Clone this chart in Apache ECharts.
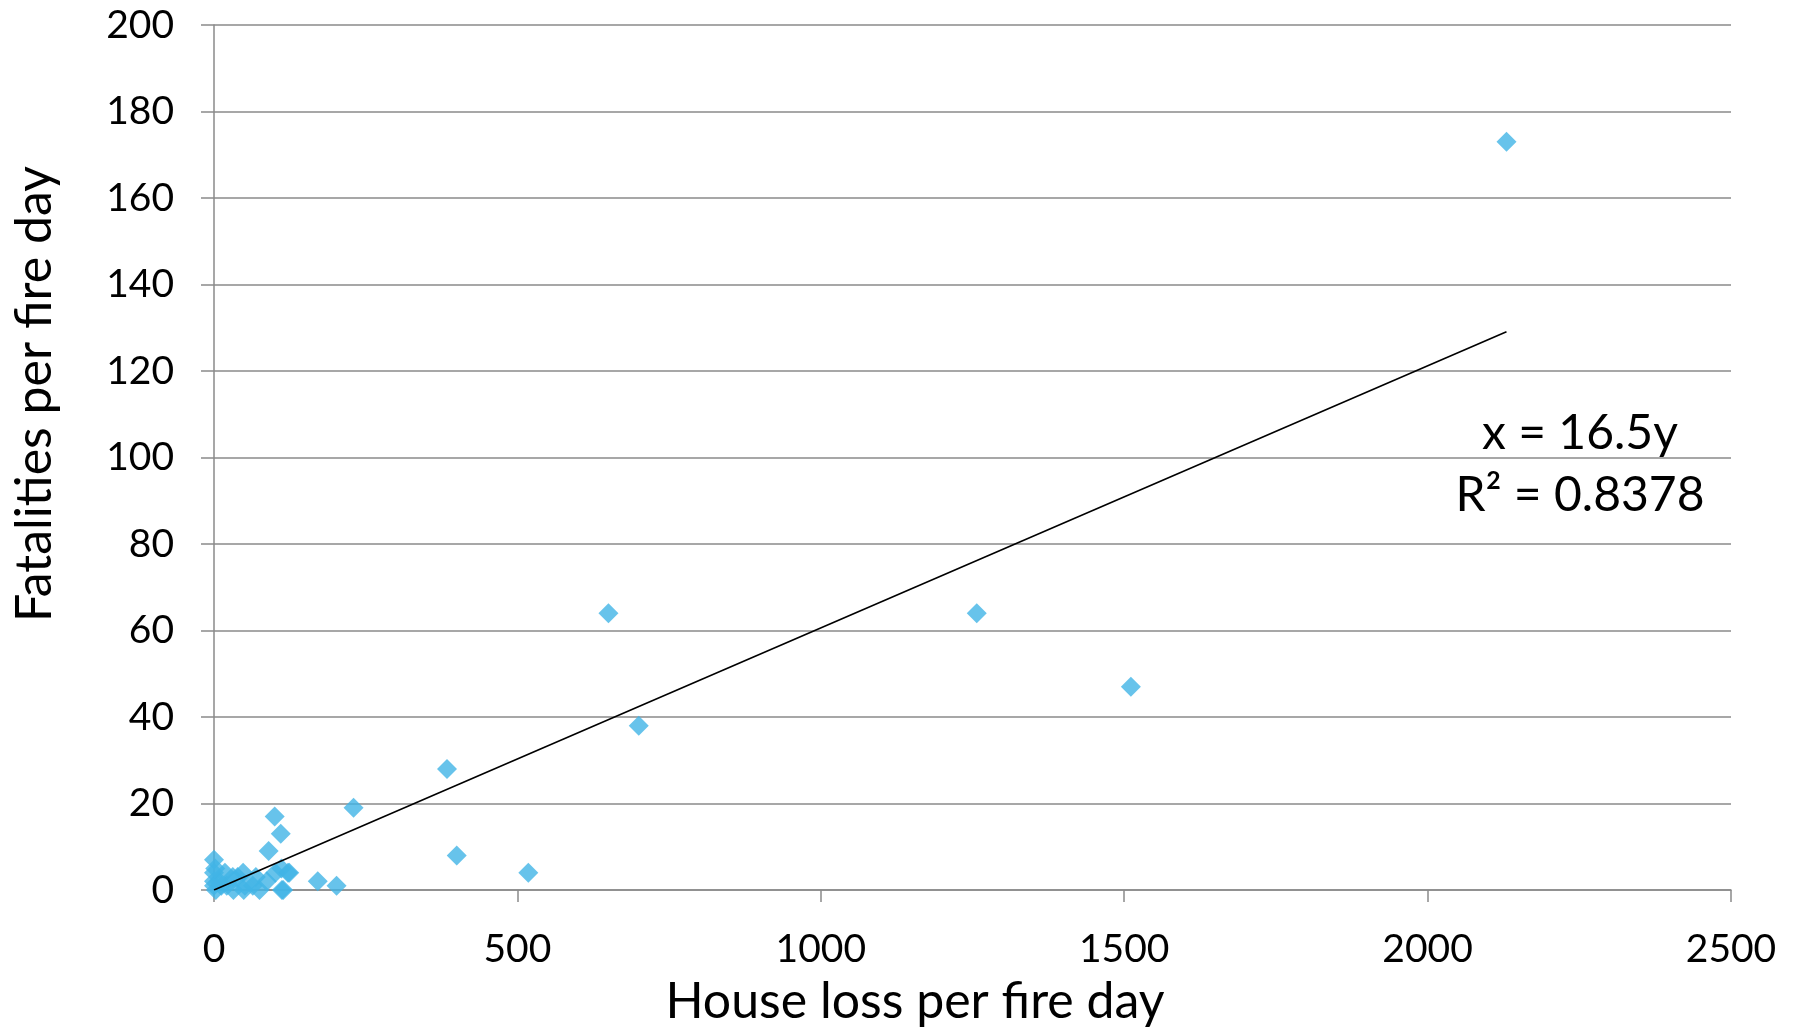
<!DOCTYPE html>
<html>
<head>
<meta charset="utf-8">
<script src="https://cdn.jsdelivr.net/npm/echarts@6/dist/echarts.min.js"></script>
<style>
html,body{margin:0;padding:0;background:#fff;}
#chart{width:1793px;height:1031px;}
</style>
</head>
<body>
<div id="chart"></div>
<script>
const houseLoss = [2130, 1257, 1511, 650, 700, 384, 400, 518, 230, 100, 110, 90, 171, 202, 0, 122, 111, 112, 75, 0, 0, 0, 18, 31, 48, 39, 69, 64, 87, 114, 32, 21, 51, 49, 101, 3, 8, 124, 2, 12];
const fatalities = [173, 64, 47, 64, 38, 28, 8, 4, 19, 17, 13, 9, 2, 1, 7, 4, 5, 0, 0, 4, 2, 1, 4, 3, 4, 3, 3, 1, 2, 0, 0, 1, 1, 0, 4, 0, 2, 4, 5, 1];
const trendSlope = 16.5;       // x = 16.5y
const trendEndX = 2130;
const xTicks = [0, 500, 1000, 1500, 2000, 2500];
const yTicks = [0, 20, 40, 60, 80, 100, 120, 140, 160, 180, 200];
const xTitle = 'House loss per fire day';
const yTitle = 'Fatalities per fire day';
const eqText = 'x = 16.5y';
const r2Text = 'R² = 0.8378';

const points = houseLoss.map((x, i) => [x, fatalities[i]]);
const trend = [[0, 0], [trendEndX, trendEndX / trendSlope]];
const FONT = 'Lato';

const chart = echarts.init(document.getElementById('chart'));
chart.setOption({
  animation: false,
  backgroundColor: '#ffffff',
  grid: { left: 214, right: 62, top: 25, bottom: 141, containLabel: false },
  xAxis: {
    type: 'value', min: xTicks[0], max: xTicks[xTicks.length - 1], interval: 500,
    axisLine: { show: true, onZero: false, lineStyle: { color: '#8a8a8a', width: 1.5 } },
    axisTick: { show: true, inside: false, length: 12, lineStyle: { color: '#8a8a8a', width: 1.5 } },
    axisLabel: { margin: 40, color: '#000', fontFamily: FONT, fontSize: 39, formatter: v => String(v) },
    splitLine: { show: false }
  },
  yAxis: {
    type: 'value', min: yTicks[0], max: yTicks[yTicks.length - 1], interval: 20,
    axisLine: { show: true, lineStyle: { color: '#8a8a8a', width: 1.5 } },
    axisTick: { show: true, inside: false, length: 13, lineStyle: { color: '#8a8a8a', width: 1.5 } },
    axisLabel: { margin: 40, color: '#000', fontFamily: FONT, fontSize: 39, formatter: v => String(v) },
    splitLine: { show: true, lineStyle: { color: '#8a8a8a', width: 1.5 } }
  },
  series: [
    {
      type: 'line', data: trend, symbol: 'none', silent: true,
      lineStyle: { color: '#000', width: 1.6 }, z: 3
    },
    {
      type: 'scatter', data: points, symbol: 'diamond', symbolSize: 20,
      itemStyle: { color: '#41B4E6' }, z: 2
    }
  ],
  graphic: [
    { type: 'text', silent: true, x: 915, y: 1002,
      style: { text: xTitle, x: 0, y: 0, align: 'center', verticalAlign: 'middle', font: '50px ' + FONT, fill: '#000' } },
    { type: 'text', silent: true, x: 35, y: 394, rotation: Math.PI / 2,
      style: { text: yTitle, x: 0, y: 0, align: 'center', verticalAlign: 'middle', font: '50px ' + FONT, fill: '#000' } },
    { type: 'text', silent: true, x: 1580, y: 434,
      style: { text: eqText, x: 0, y: 0, align: 'center', verticalAlign: 'middle', font: '48px ' + FONT, fill: '#000' } },
    { type: 'text', silent: true, x: 1580, y: 496,
      style: { text: r2Text, x: 0, y: 0, align: 'center', verticalAlign: 'middle', font: '48px ' + FONT, fill: '#000' } }
  ]
});
</script>
</body>
</html>
